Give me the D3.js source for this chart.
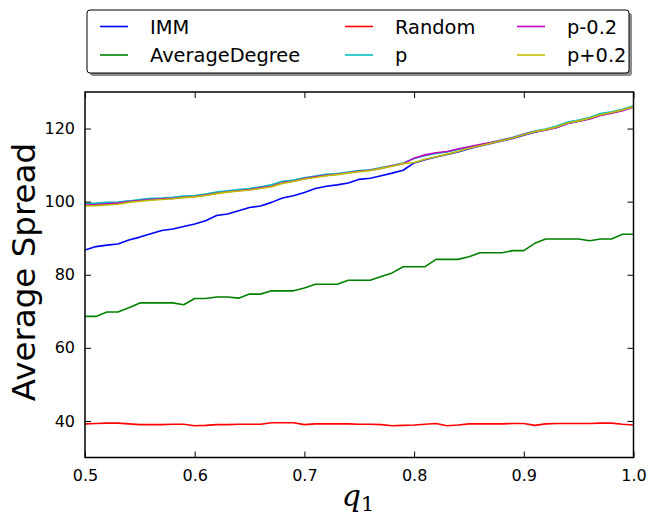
<!DOCTYPE html>
<html>
<head>
<meta charset="utf-8">
<script src="https://cdn.jsdelivr.net/npm/d3@7"></script>
<style>
  body { margin: 0; background: #fff; }
  svg { display: block; font-family: "DejaVu Sans", sans-serif; }
</style>
</head>
<body>
<svg id="chart" width="648" height="519"></svg>
<script>
// q1 values on the x axis
const q1 = [0.50, 0.51, 0.52, 0.53, 0.54, 0.55, 0.56, 0.57, 0.58, 0.59,
  0.60, 0.61, 0.62, 0.63, 0.64, 0.65, 0.66, 0.67, 0.68, 0.69,
  0.70, 0.71, 0.72, 0.73, 0.74, 0.75, 0.76, 0.77, 0.78, 0.79,
  0.80, 0.81, 0.82, 0.83, 0.84, 0.85, 0.86, 0.87, 0.88, 0.89,
  0.90, 0.91, 0.92, 0.93, 0.94, 0.95, 0.96, 0.97, 0.98, 0.99, 1.00];

const imm = [86.8, 87.7, 88.1, 88.4, 89.5, 90.3, 91.2, 92.1, 92.5, 93.2,
  93.9, 94.8, 96.2, 96.6, 97.5, 98.4, 98.8, 99.8, 101.0, 101.6,
  102.5, 103.6, 104.2, 104.6, 105.1, 106.1, 106.4, 107.1, 107.8, 108.6,
  110.6, 111.5, 112.2, 112.9, 113.6, 114.5, 115.2, 115.9, 116.6, 117.3,
  118.2, 119.0, 119.6, 120.3, 121.4, 122.0, 122.7, 123.7, 124.3, 125.0, 125.9];

const averageDegree = [68.6, 68.6, 69.8, 69.8, 71.0, 72.3, 72.3, 72.3, 72.3, 71.8,
  73.5, 73.5, 73.9, 73.9, 73.6, 74.7, 74.7, 75.6, 75.6, 75.6,
  76.4, 77.4, 77.4, 77.4, 78.5, 78.5, 78.5, 79.5, 80.5, 82.2,
  82.2, 82.2, 84.2, 84.2, 84.2, 84.9, 86.0, 86.0, 86.0, 86.6,
  86.6, 88.6, 89.8, 89.8, 89.8, 89.8, 89.3, 89.8, 89.8, 91.1, 91.1];

const random = [39.2, 39.3, 39.4, 39.4, 39.2, 39.0, 39.0, 39.0, 39.1, 39.1,
  38.7, 38.8, 39.0, 39.0, 39.1, 39.1, 39.1, 39.5, 39.5, 39.5,
  39.0, 39.2, 39.2, 39.2, 39.2, 39.1, 39.1, 39.0, 38.7, 38.8,
  38.9, 39.1, 39.3, 38.7, 38.9, 39.2, 39.2, 39.2, 39.2, 39.3,
  39.3, 38.8, 39.2, 39.3, 39.3, 39.3, 39.3, 39.4, 39.4, 39.1, 38.9];

const pBase = [99.5, 99.6, 99.8, 99.9, 100.2, 100.6, 100.9, 101.0, 101.2, 101.5,
  101.7, 102.1, 102.6, 103.0, 103.3, 103.6, 104.1, 104.6, 105.6, 105.9,
  106.5, 107.0, 107.5, 107.7, 108.1, 108.5, 108.7, 109.3, 109.9, 110.6,
  111.8, 112.6, 113.2, 113.6, 114.3, 114.9, 115.5, 116.2, 116.9, 117.6,
  118.5, 119.3, 119.9, 120.7, 121.8, 122.3, 123.0, 124.1, 124.6, 125.3, 126.2];

const pMinus = [99.1, 99.2, 99.4, 99.6, 100.0, 100.3, 100.6, 100.8, 100.9, 101.2,
  101.4, 101.8, 102.3, 102.7, 103.0, 103.3, 103.8, 104.2, 105.2, 105.6,
  106.3, 106.8, 107.2, 107.5, 107.9, 108.3, 108.6, 109.1, 109.8, 110.4,
  111.9, 112.8, 113.4, 113.7, 114.4, 115.0, 115.6, 116.2, 116.8, 117.5,
  118.4, 119.1, 119.6, 120.3, 121.4, 122.0, 122.6, 123.6, 124.2, 124.9, 125.9];

const pPlus = [98.8, 98.9, 99.1, 99.3, 99.8, 100.1, 100.4, 100.6, 100.8, 101.1,
  101.3, 101.7, 102.2, 102.6, 102.9, 103.2, 103.6, 104.1, 105.0, 105.5,
  106.2, 106.6, 107.1, 107.4, 107.8, 108.2, 108.5, 109.1, 109.7, 110.4,
  110.7, 111.6, 112.3, 113.0, 113.7, 114.6, 115.3, 116.0, 116.7, 117.4,
  118.3, 119.1, 119.7, 120.4, 121.5, 122.1, 122.8, 123.8, 124.4, 125.1, 126.0];

const seriesNames = ["IMM", "AverageDegree", "Random", "p", "p-0.2", "p+0.2"];
const seriesValues = [imm, averageDegree, random, pBase, pMinus, pPlus];
const seriesColors = ["#0000ff", "#008000", "#ff0000", "#00bfbf", "#bf00bf", "#bfbf00"];

const xTicks = [0.5, 0.6, 0.7, 0.8, 0.9, 1.0];
const yTicks = [40, 60, 80, 100, 120];

const svg = d3.select("#chart");
const plot = { left: 85, right: 633.5, top: 92, bottom: 457.5 };

const x = d3.scaleLinear().domain([0.5, 1.0]).range([plot.left, plot.right]);
const y = d3.scaleLinear().domain([30, 130]).range([plot.bottom, plot.top]);

// series lines
const line = d3.line().x((d, i) => x(q1[i])).y(d => y(d));
seriesValues.forEach((vals, i) => {
  svg.append("path")
    .datum(vals)
    .attr("fill", "none")
    .attr("stroke", seriesColors[i])
    .attr("stroke-width", 1.6)
    .attr("stroke-linejoin", "round")
    .attr("d", line);
});

// axes with inward ticks on all four sides
const fmt = d3.format(".1f");
svg.append("g").attr("transform", `translate(0,${plot.bottom})`)
  .call(d3.axisBottom(x).tickValues(xTicks).tickFormat(fmt).tickSizeInner(-6).tickSizeOuter(0).tickPadding(12));
svg.append("g").attr("transform", `translate(0,${plot.top})`)
  .call(d3.axisTop(x).tickValues(xTicks).tickFormat("").tickSizeInner(-6).tickSizeOuter(0));
svg.append("g").attr("transform", `translate(${plot.left},0)`)
  .call(d3.axisLeft(y).tickValues(yTicks).tickFormat(d3.format("d")).tickSizeInner(-6).tickSizeOuter(0).tickPadding(10));
svg.append("g").attr("transform", `translate(${plot.right},0)`)
  .call(d3.axisRight(y).tickValues(yTicks).tickFormat("").tickSizeInner(-6).tickSizeOuter(0));

svg.selectAll(".domain").remove();
svg.selectAll(".tick line").attr("stroke", "#000").attr("stroke-width", 1);
svg.selectAll(".tick text").attr("font-size", 16).attr("fill", "#000")
  .attr("font-family", "DejaVu Sans, sans-serif");

// frame
svg.append("rect")
  .attr("x", plot.left).attr("y", plot.top)
  .attr("width", plot.right - plot.left).attr("height", plot.bottom - plot.top)
  .attr("fill", "none").attr("stroke", "#000").attr("stroke-width", 1.5);

// axis labels
svg.append("text")
  .attr("transform", `translate(35,272) rotate(-90)`)
  .attr("text-anchor", "middle")
  .attr("font-size", 32.5)
  .text("Average Spread");

const xl = svg.append("text")
  .attr("x", 358).attr("y", 506)
  .attr("text-anchor", "middle")
  .attr("font-family", "DejaVu Serif, serif")
  .attr("font-style", "italic")
  .attr("font-size", 30);
xl.append("tspan").text("q");
xl.append("tspan").attr("dy", 5).attr("font-size", 21).attr("font-style", "normal").text("1");

// legend
const legend = svg.append("g");
const lg = { x: 87, y: 10, w: 542, h: 63 };
legend.append("rect")
  .attr("x", lg.x + 3).attr("y", lg.y + 3).attr("width", lg.w).attr("height", lg.h)
  .attr("rx", 3).attr("fill", "#8c8c8c");
legend.append("rect")
  .attr("x", lg.x).attr("y", lg.y).attr("width", lg.w).attr("height", lg.h)
  .attr("rx", 3).attr("fill", "#fff").attr("stroke", "#000").attr("stroke-width", 1);

const colX = [100, 345, 517];
const rowY = [26.5, 55];
seriesNames.forEach((name, i) => {
  const cx = colX[Math.floor(i / 2)];
  const cy = rowY[i % 2];
  legend.append("line")
    .attr("x1", cx).attr("x2", cx + 28).attr("y1", cy).attr("y2", cy)
    .attr("stroke", seriesColors[i]).attr("stroke-width", 1.6);
  legend.append("text")
    .attr("x", cx + 50).attr("y", cy + 7)
    .attr("font-size", 19.4)
    .text(name);
});
</script>
</body>
</html>
